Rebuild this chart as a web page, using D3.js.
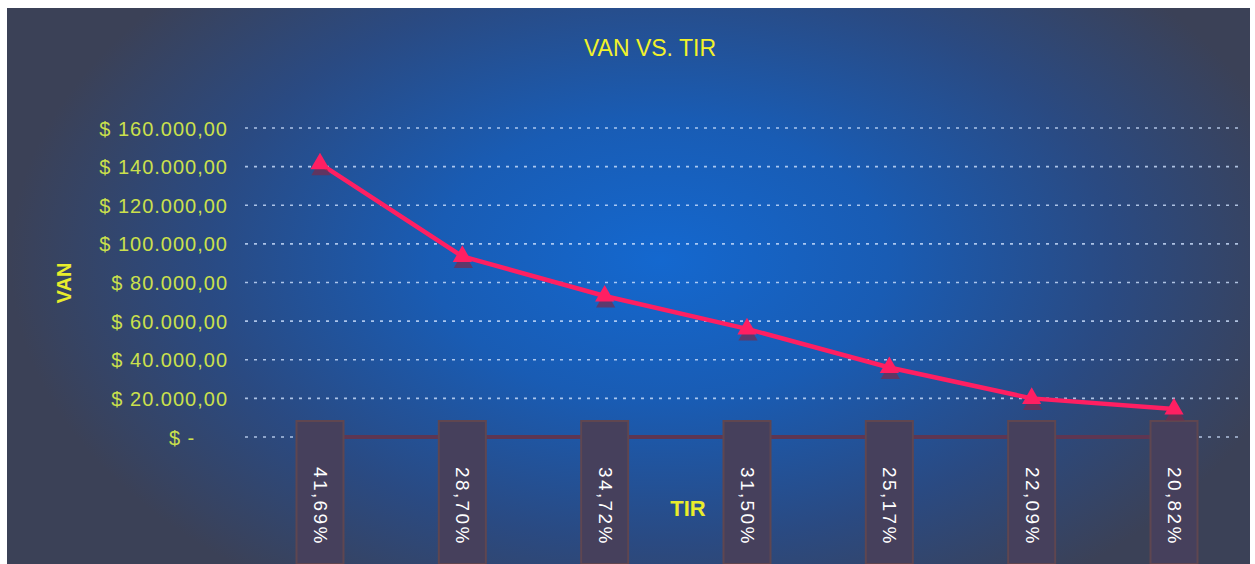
<!DOCTYPE html>
<html>
<head>
<meta charset="utf-8">
<script src="https://cdn.jsdelivr.net/npm/d3@7"></script>
<style>
  html, body { margin: 0; padding: 0; background: #ffffff; }
  svg { display: block; }
  text { font-family: "Liberation Sans", Arial, sans-serif; }
</style>
</head>
<body>
<svg id="chart" width="1255" height="564"></svg>
<script>
// TIR per scenario (category labels) and the matching VAN values
const tirLabels = ["41,69%", "28,70%", "34,72%", "31,50%", "25,17%", "22,09%", "20,82%"];
const vanValues = [141500, 93500, 73000, 56000, 36000, 20000, 14500];
const yTicks = [0, 20000, 40000, 60000, 80000, 100000, 120000, 140000, 160000];
const yTickLabels = ["$ -\u00a0\u00a0\u00a0\u00a0\u00a0", "$ 20.000,00", "$ 40.000,00", "$ 60.000,00", "$ 80.000,00",
                     "$ 100.000,00", "$ 120.000,00", "$ 140.000,00", "$ 160.000,00"];

const svg = d3.select("#chart");
const W = 1255, H = 564;

// Background panel with a radial blue glow
const defs = svg.append("defs");
const grad = defs.append("radialGradient")
  .attr("id", "bg")
  .attr("gradientUnits", "userSpaceOnUse")
  .attr("cx", 660).attr("cy", 260).attr("r", 650)
  .attr("gradientTransform", "translate(660,260) scale(1,0.62) translate(-660,-260)");
grad.append("stop").attr("offset", "0%").attr("stop-color", "#1468cf");
grad.append("stop").attr("offset", "35%").attr("stop-color", "#195cb4");
grad.append("stop").attr("offset", "70%").attr("stop-color", "#2a4a82");
grad.append("stop").attr("offset", "100%").attr("stop-color", "#3b4157");

svg.append("rect")
  .attr("x", 7).attr("y", 8).attr("width", W - 12).attr("height", H - 8)
  .attr("fill", "url(#bg)");

// Scales
const x = d3.scalePoint().domain(tirLabels).range([320, 1174]);
const y = d3.scaleLinear().domain([0, 160000]).range([437, 128]);

// Horizontal dotted gridlines
svg.append("g")
  .selectAll("line")
  .data(yTicks)
  .join("line")
  .attr("x1", 245).attr("x2", 1238)
  .attr("y1", d => y(d)).attr("y2", d => y(d))
  .attr("stroke", "#cfe2ff")
  .attr("stroke-width", 1.6)
  .attr("stroke-dasharray", "3,6")
  .attr("opacity", 0.8);

// Y axis tick labels
const yAxis = d3.axisLeft(y)
  .tickValues(yTicks)
  .tickFormat((d, i) => yTickLabels[i])
  .tickSize(0)
  .tickPadding(0);
const gy = svg.append("g").attr("transform", "translate(228,0)").call(yAxis);
gy.select(".domain").remove();
gy.selectAll("text")
  .attr("fill", "#cbe04c")
  .attr("font-size", 20)
  .attr("letter-spacing", 1)
  .attr("dy", "0.35em")
  .style("white-space", "pre");

// Baseline between categories
svg.append("line")
  .attr("x1", x(tirLabels[0])).attr("x2", x(tirLabels[tirLabels.length - 1]))
  .attr("y1", y(0)).attr("y2", y(0))
  .attr("stroke", "#5e3652")
  .attr("stroke-width", 4);

// Category label blocks along the bottom
const xAxis = d3.axisBottom(x).tickSize(0).tickPadding(0);
const gx = svg.append("g").attr("transform", "translate(0,421)").call(xAxis);
gx.select(".domain").remove();
gx.selectAll(".tick").insert("rect", "text")
  .attr("x", -24).attr("y", 0).attr("width", 47).attr("height", H - 421)
  .attr("fill", "#46405c")
  .attr("stroke", "#5f4650")
  .attr("stroke-width", 2);
gx.selectAll(".tick text")
  .attr("transform", "translate(0,46) rotate(90)")
  .attr("x", 0).attr("y", 0).attr("dy", "0.35em")
  .attr("text-anchor", "start")
  .attr("fill", "#ffffff")
  .attr("font-size", 19)
  .attr("letter-spacing", 2.4);

// VAN line
const pts = tirLabels.map((t, i) => [x(t), y(vanValues[i])]);
svg.append("path")
  .datum(pts)
  .attr("d", d3.line())
  .attr("fill", "none")
  .attr("stroke", "#ff1f62")
  .attr("stroke-width", 4.5)
  .attr("stroke-linejoin", "round");

// Triangle markers with a dark drop shadow
const tri = d3.symbol().type(d3.symbolTriangle).size(160);
svg.append("g")
  .selectAll("path")
  .data(pts)
  .join("path")
  .attr("d", tri)
  .attr("transform", d => `translate(${d[0] + 1},${d[1] + 6})`)
  .attr("fill", "#7a2a4a")
  .attr("opacity", 0.7);
svg.append("g")
  .selectAll("path")
  .data(pts)
  .join("path")
  .attr("d", tri)
  .attr("transform", d => `translate(${d[0]},${d[1]})`)
  .attr("fill", "#ff1f62");

// Titles
svg.append("text")
  .attr("x", 650).attr("y", 56)
  .attr("text-anchor", "middle")
  .attr("fill", "#f2f22a")
  .attr("font-size", 23)
  .text("VAN VS. TIR");

svg.append("text")
  .attr("transform", "translate(71,283) rotate(-90)")
  .attr("text-anchor", "middle")
  .attr("fill", "#e8ec2c")
  .attr("font-size", 20)
  .attr("font-weight", "bold")
  .text("VAN");

svg.append("text")
  .attr("x", 688).attr("y", 516)
  .attr("text-anchor", "middle")
  .attr("fill", "#e8ec2c")
  .attr("font-size", 22)
  .attr("font-weight", "bold")
  .text("TIR");
</script>
</body>
</html>
